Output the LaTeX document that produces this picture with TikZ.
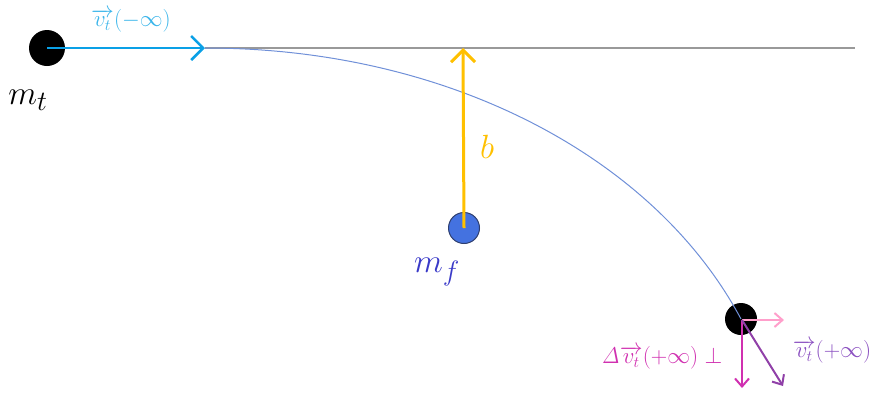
\documentclass[tikz,border=0pt]{standalone}
\usepackage{graphicx}
\usetikzlibrary{arrows.meta}
\definecolor{vblue}{HTML}{0AA0E6}
\definecolor{vbluelab}{HTML}{3BB5EA}
\definecolor{lgrey}{HTML}{999999}
\definecolor{curvec}{HTML}{7090D8}
\definecolor{gold}{HTML}{FFC000}
\definecolor{mffill}{HTML}{4472E0}
\definecolor{mfline}{HTML}{2F3F6F}
\definecolor{mflab}{HTML}{3A3AC8}
\definecolor{pinkc}{HTML}{FF9FCB}
\definecolor{magc}{HTML}{D030B0}
\definecolor{purc}{HTML}{9040A8}
\definecolor{purlab}{HTML}{8A4FC0}
\newcommand{\biglabtext}[1]{\scalebox{1.35}{\Huge$#1$}}
\newcommand{\smalllabtext}[1]{\scalebox{1.1}{\huge$#1$}}
\tikzset{
  mass/.style={circle,fill=black,inner sep=0pt,minimum size=#1},
  bigarrow/.style={-{Straight Barb[length=12pt,width=24pt]},line width=2.5pt},
  smallarrow/.style={-{Straight Barb[length=8pt,width=14pt]},line width=2pt},
  labnode/.style={inner sep=1pt}
}
\begin{document}
\begin{tikzpicture}[x=1pt,y=-1pt]
\useasboundingbox (0,0) rectangle (878,392);
% masses
\node[mass=36pt] (mt) at (47,48) {};
\node[circle,fill=mffill,draw=mfline,line width=1pt,inner sep=0pt,minimum size=31pt] (mf) at (464,228) {};
\node[mass=32pt] (mt2) at (741,319) {};
% coordinates
\coordinate (vs) at (205,48);
\coordinate (lineend) at (855,48);
\coordinate (btop) at (463,48);
\coordinate (pink) at (784,320);
\coordinate (down) at (742,388);
\coordinate (diag) at (783,386);
\coordinate (o2) at (742,320);
% line and curve
\draw[lgrey,line width=1.5pt] (vs) -- (lineend);
\draw[curvec,line width=1pt] (vs) .. controls (450,48) and (655,158) .. (mt2.center);
% arrows
\draw[vblue,bigarrow] (mt.center) -- (vs);
\draw[gold,bigarrow,line width=3pt] (mf.center) -- (btop);
\draw[pinkc,smallarrow] (o2) -- (pink);
\draw[magc,smallarrow] (o2) -- (down);
\draw[purc,smallarrow] (o2) -- (diag);
% labels
\node[labnode] (lmt) at (28,100) {\biglabtext{m_t}};
\node[labnode,vbluelab] (lv) at (131,21) {\smalllabtext{\overrightarrow{v_t}(-\infty)}};
\node[labnode,gold] (lb) at (487,147) {\biglabtext{b}};
\node[labnode,mflab] (lmf) at (437,272) {\biglabtext{m_f}};
\node[labnode,magc] (ldv) at (662,358) {\smalllabtext{\mathit{\Delta}\overrightarrow{v_t}(+\infty)\perp}};
\node[labnode,purlab] (lv2) at (832,352) {\smalllabtext{\overrightarrow{v_t}(+\infty)}};
\end{tikzpicture}
\end{document}
